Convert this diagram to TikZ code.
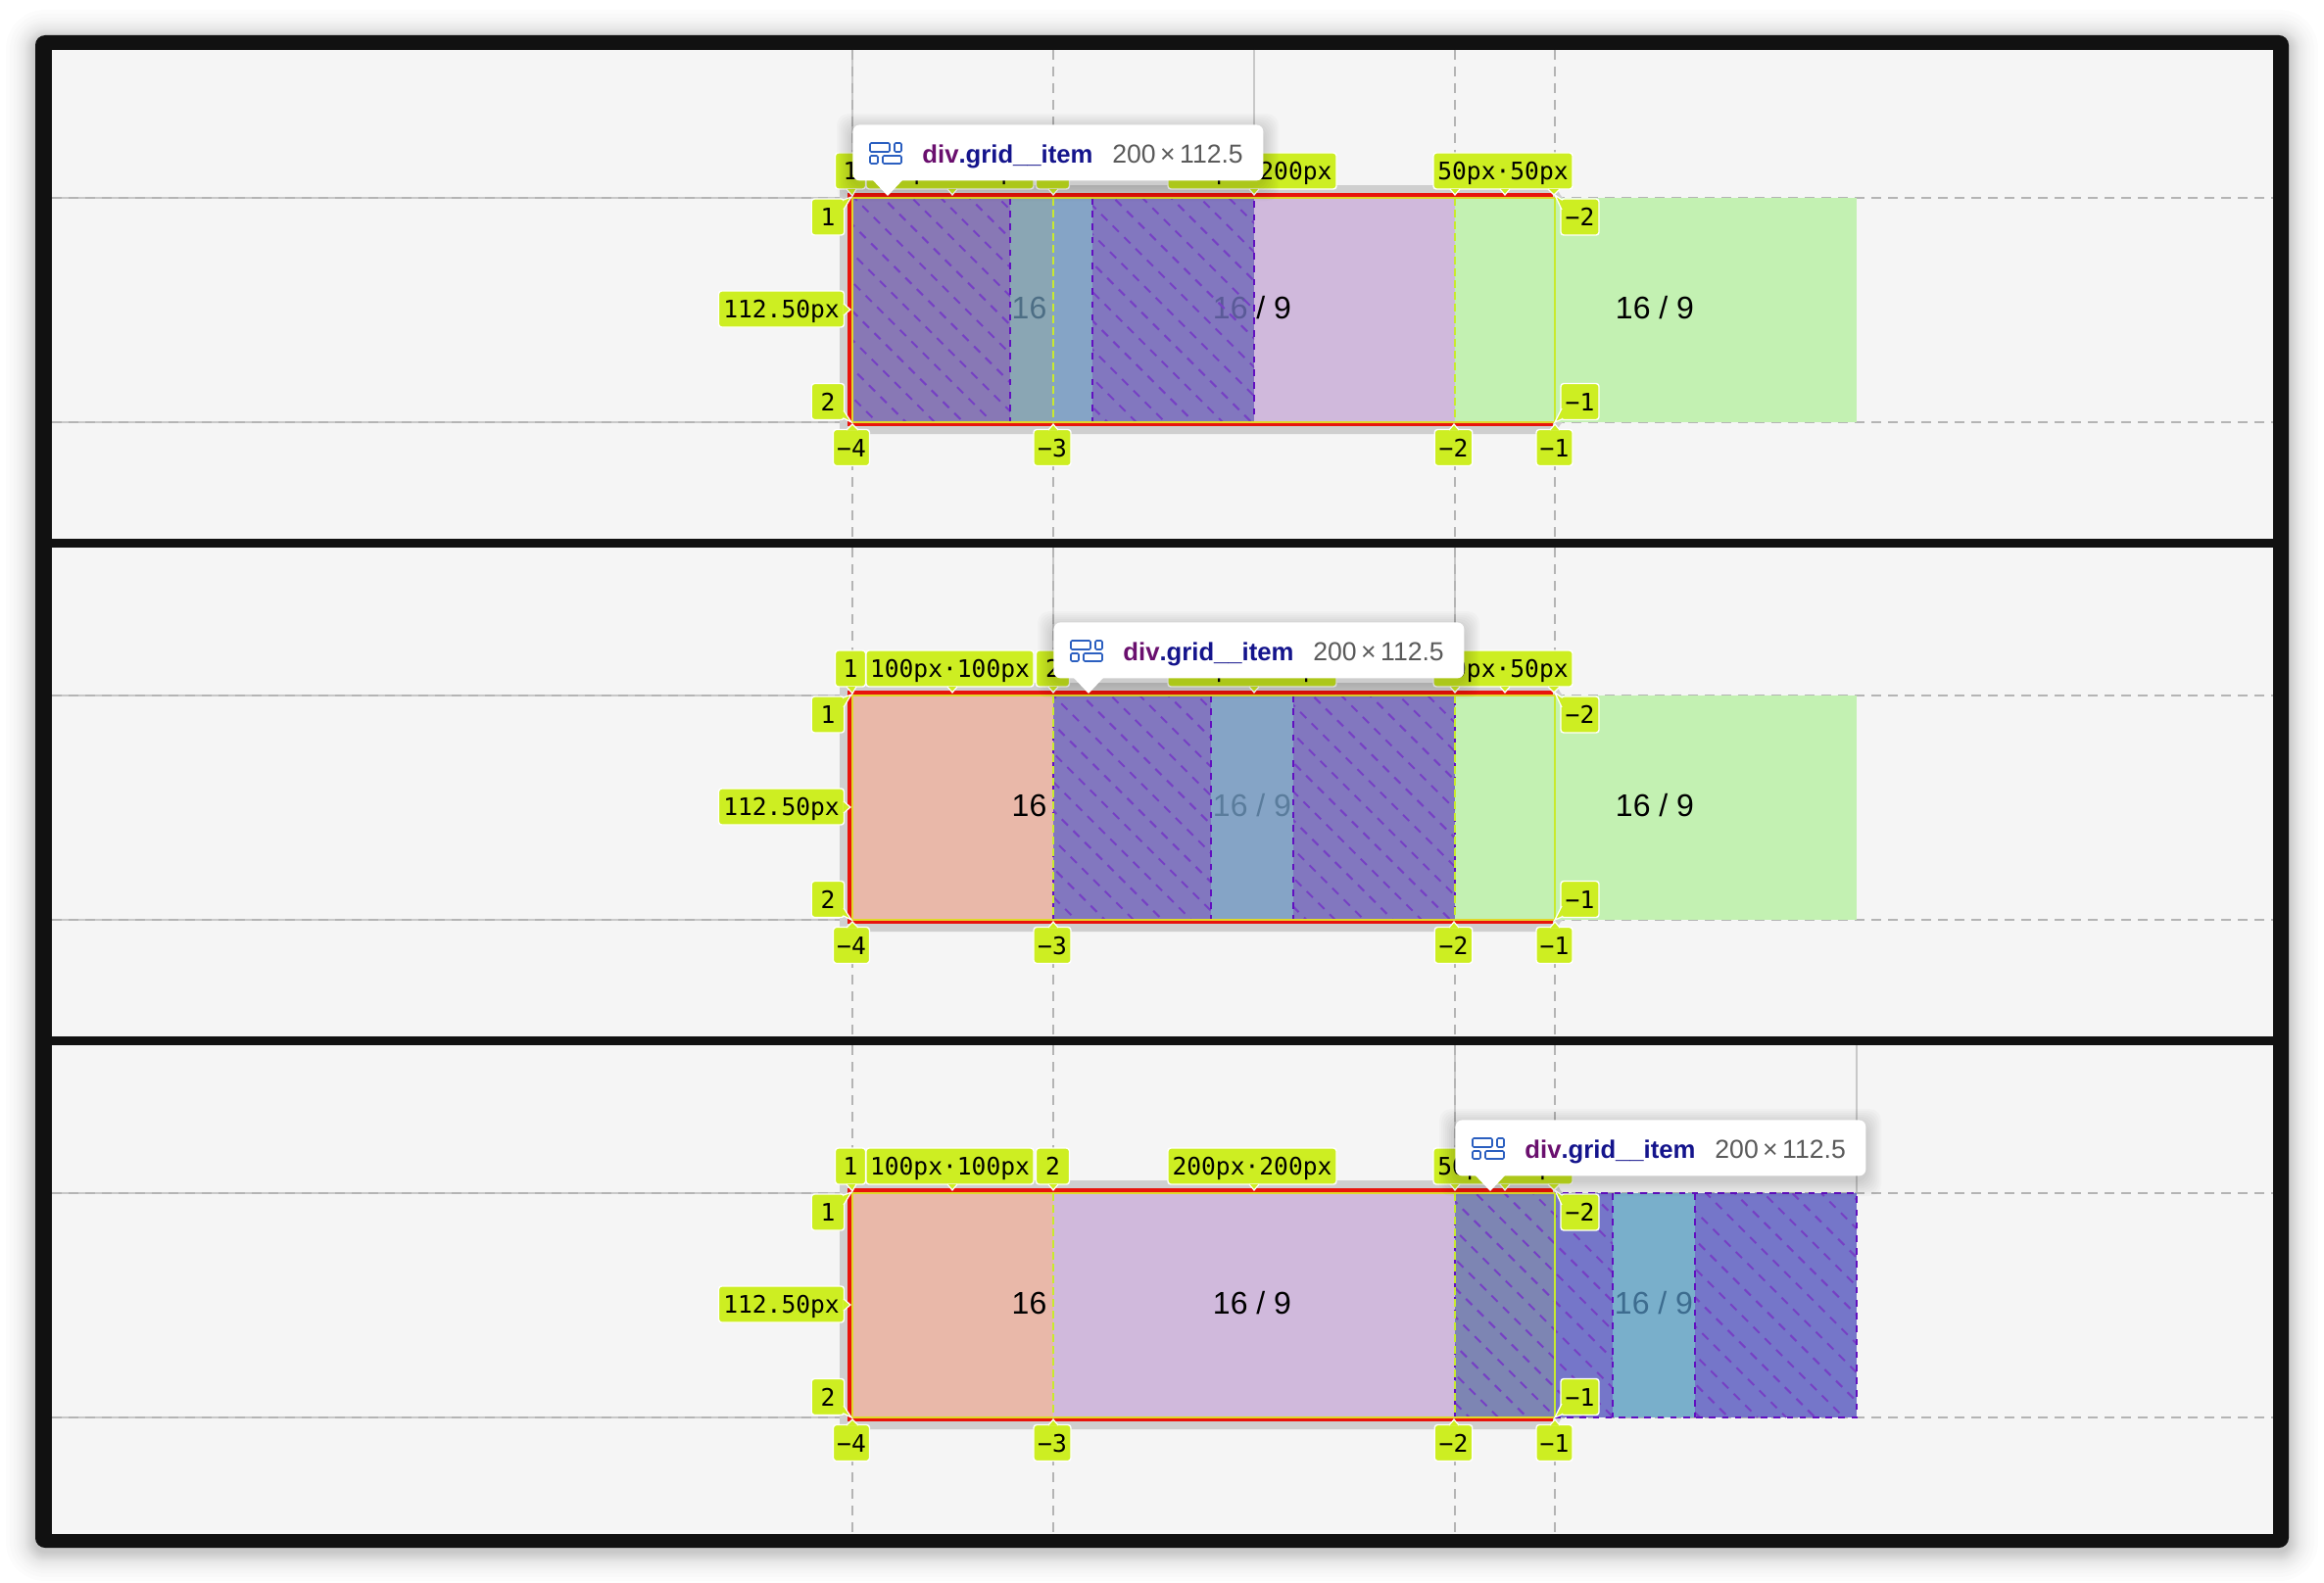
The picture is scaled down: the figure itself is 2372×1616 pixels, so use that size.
\documentclass[tikz,border=0pt]{standalone}
\usepackage{fontspec}
\setmainfont{Liberation Sans}
\newfontfamily\monofam{DejaVu Sans Mono}
\definecolor{framec}{HTML}{111111}
\definecolor{bgc}{HTML}{F5F5F5}
\definecolor{peachc}{HTML}{E9B8A9}
\definecolor{lilacc}{HTML}{D0B9DC}
\definecolor{greenc}{HTML}{C3F1B2}
\definecolor{labc}{HTML}{CDEE22}
\definecolor{redc}{HTML}{E8140C}
\definecolor{yelc}{HTML}{E0D82A}
\definecolor{ylwc}{HTML}{C8EA2E}
\definecolor{bandc}{HTML}{CFCFCF}
\definecolor{extc}{HTML}{B4B4B4}
\definecolor{solidc}{HTML}{C8C8C8}
\definecolor{hatchc}{HTML}{7640C4}
\definecolor{edgec}{HTML}{6210C0}
\definecolor{iconc}{HTML}{2B5FC0}
\definecolor{tagc}{HTML}{6A0F6E}
\definecolor{clsc}{HTML}{14148C}
\definecolor{dimc}{HTML}{5A5A5A}
\definecolor{HatchA}{HTML}{8878B5}
\definecolor{HatchB}{HTML}{8277BF}
\definecolor{HatchC}{HTML}{7D85B3}
\definecolor{HatchD}{HTML}{7576C9}
\definecolor{StripA}{HTML}{8AA6B4}
\definecolor{StripB}{HTML}{85A4C6}
\definecolor{StripD}{HTML}{79AFCB}
\definecolor{TxtA}{HTML}{4D6E85}
\definecolor{TxtB}{HTML}{5A5A98}
\definecolor{TxtC}{HTML}{5A7C9C}
\definecolor{TxtD}{HTML}{3D6C8F}
\tikzset{
  x=0.5pt,y=-0.5pt,
  lab/.style={fill=labc,draw=white,line width=0.7pt,rounded corners=1.5pt,inner sep=0pt,
    minimum height=18.5pt,text height=9pt,text depth=0pt,font=\monofam\fontsize{12.3}{12.3}\selectfont,text=black},
  bodytxt/.style={anchor=base,inner sep=0pt,font=\fontsize{16}{16}\selectfont},
  extline/.style={extc,line width=0.75pt,dash pattern=on 5pt off 3.5pt},
  solidline/.style={solidc,line width=0.75pt},
  edgeln/.style={edgec,line width=1.1pt,dash pattern=on 3.3pt off 3.3pt},
  tipbox/.style={fill=white,rounded corners=3.5pt,inner sep=0pt,anchor=north west,minimum width=209.5pt,minimum height=28.5pt},
  iconbox/.style={iconc,line width=0.8pt,rounded corners=0.6pt},
}
% label: name, cx, cy, width, text
\newcommand\lab[5]{\node[lab,minimum width=#4*0.5pt] (#1) at (#2,#3) {#5};}
% pointer: base a, tip, base b
\newcommand\ptr[3]{\fill[labc] (#1) -- (#2) -- (#3) -- cycle; \draw[white,line width=0.6pt] (#1) -- (#2) -- (#3);}
% hatch lines: x1, x2, anchor X at the top edge
\newcommand\hatchlines[3]{%
  \begin{scope}
    \clip (#1,202) rectangle (#2,431);
    \foreach \k in {-40,...,40} {
      \pgfmathsetmacro{\ph}{(\k+40)*2.33}
      \draw[hatchc,line width=1pt,dash pattern=on 4.4pt off 3.85pt,dash phase=\ph pt] ({#3+29.4*\k},202) -- ({#3+29.4*\k+229},431);
    }
  \end{scope}}
\newcommand\rectfill[3]{\fill[#3] (#1,202) rectangle (#2,431);}
\newcommand\panelstart[2]{% solid left, solid right
  \fill[bgc] (53,51) rectangle (2320,550);
  \draw[solidline] (53,202) -- (#1,202);
  \draw[solidline] (53,431) -- (#1,431);
  \draw[solidline] (#1,51) -- (#1,202);
  \draw[solidline] (#2,51) -- (#2,202);
  \foreach \xx in {870,1075,1485,1587} {
    \draw[extline] (\xx,51) -- (\xx,197);
    \draw[extline] (\xx,436) -- (\xx,550);
  }
  \draw[extline] (53,202) -- (865,202);
  \draw[extline] (53,431) -- (865,431);
  \draw[extline] (1587,202) -- (2320,202);
  \draw[extline] (1587,431) -- (2320,431);
  \fill[bandc,rounded corners=2pt] (857,189) -- (1590,189) -- (1590,196) -- (1597,204) -- (1597,429) -- (1590,436) -- (1590,443) -- (857,443) -- cycle;
  \rectfill{870}{1075}{peachc}
  \rectfill{1075}{1485}{lilacc}
  \rectfill{1485}{1895}{greenc}
}
\newcommand\panelend[1]{% suffix
  \draw[redc,line width=2.2pt] (1585,199) -- (867,199) -- (867,435);
  \draw[redc,line width=1.4pt] (865,433.7) -- (1585,433.7);
  \draw[yelc,line width=1pt] (869.5,202) -- (1587,202);
  \draw[yelc,line width=1.1pt] (869.5,431) -- (1587,431);
  \draw[yelc,line width=1pt] (870,202) -- (870,431);
  \draw[ylwc,line width=1pt] (1587,202) -- (1587,431);
  \draw[ylwc,line width=1pt,dash pattern=on 4pt off 2pt] (1075,202) -- (1075,431);
  \draw[ylwc,line width=1pt,dash pattern=on 4pt off 2pt] (1485,202) -- (1485,431);
  % top labels
  \lab{t1#1}{868}{174.5}{31}{1}
  \ptr{864,193}{870,200}{874,193}
  \lab{t100#1}{969.5}{174.5}{171}{100px·100px}
  \ptr{967,193}{972,199}{977,193}
  \lab{t2#1}{1074.5}{174.5}{34}{2}
  \ptr{1070,193}{1075,199}{1080,193}
  \lab{t200#1}{1278}{174.5}{172}{200px·200px}
  \ptr{1275,193}{1280,199}{1285,193}
  \lab{t50#1}{1534}{174.5}{142}{50px·50px}
  \ptr{1480,193}{1485,199}{1490,193}
  \ptr{1531,193}{1536,199}{1541,193}
  \ptr{1580,193}{1586,199}{1592,193}
  % left labels
  \lab{l1#1}{845}{221.5}{33.5}{1}
  \ptr{861,204}{869,201}{861,214}
  \lab{l2#1}{845}{410}{33.5}{2}
  \ptr{861,419}{869,431}{861,427}
  \lab{lh#1}{797.5}{315.5}{128}{112.50px}
  \ptr{861,310}{868,316}{861,322}
  % right labels
  \lab{r2#1}{1612.5}{221.5}{39}{−2}
  \ptr{1594,204}{1587,199}{1594,214}
  \lab{r1#1}{1612.5}{410}{39}{−1}
  \ptr{1594,417}{1587,431}{1594,428}
  % bottom labels
  \lab{b4#1}{869}{457}{37}{−4}
  \ptr{864,439}{870,433}{876,439}
  \lab{b3#1}{1074}{457}{38}{−3}
  \ptr{1070,439}{1075,433}{1080,439}
  \lab{b2#1}{1483.5}{457}{38.5}{−2}
  \ptr{1479,439}{1484,433}{1489,439}
  \lab{b1#1}{1586.5}{457}{37}{−1}
  \ptr{1582,439}{1587,433}{1592,439}
}
\newcommand\tooltip[2]{% suffix, left x
  \begin{scope}[shift={(#2,127)}]
    \foreach \e in {16,14,...,2} {
      \fill[black,opacity=0.018,rounded corners=6pt] ({-\e},{-\e+5}) rectangle ({419+\e},{57+\e+5});
    }
    \node[tipbox] (tip#1) at (0,0) {};
    \fill[white] (20,56) -- (36,73) -- (52,56) -- cycle;
    \draw[iconbox] (18,19) rectangle (38,28);
    \draw[iconbox] (43,19) rectangle (50,28);
    \draw[iconbox] (18,32) rectangle (26,40);
    \draw[iconbox] (31,32) rectangle (50,40);
    \node[anchor=base west,inner sep=0pt,font=\bfseries\fontsize{12.85}{12.85}\selectfont] (tipname#1) at (71,39)
      {\textcolor{tagc}{div}\textcolor{clsc}{.grid\_\kern-0.1pt\_item}};
    \node[anchor=base west,inner sep=0pt,text=dimc,font=\fontsize{13.3}{13.3}\selectfont] (tipsize#1) at (265,39)
      {200\,×\,112.5};
  \end{scope}
}
\begin{document}
\begin{tikzpicture}
\useasboundingbox (0,0) rectangle (2372,1616);
\fill[white] (0,0) rectangle (2372,1616);
\foreach \e in {30,26,22,19,17,15,13,11,10,9,8,7,6,5,4,3,2,1} {
  \fill[black,opacity=0.012,rounded corners={(\e+10)*0.5pt}] ({36-\e},{40-\e}) rectangle ({2336+\e},{1584+\e});
}
\fill[framec,rounded corners=5pt] (36,36) rectangle (2336,1580);

% ---------- panel 1
\begin{scope}
\panelstart{870}{1280}
\rectfill{870}{1031}{HatchA}
\rectfill{1031}{1075}{StripA}
\rectfill{1075}{1115}{StripB}
\rectfill{1115}{1280}{HatchB}
\node[bodytxt,text=TxtA] (a16) at (1050.5,325) {16};
\node[bodytxt] (aratio) at (1278,325) {\textcolor{TxtB}{16} / 9};
\node[bodytxt] (agreen) at (1689,325) {16 / 9};
\hatchlines{870}{1031}{872}
\hatchlines{1115}{1280}{872}
\draw[edgeln] (870,202) rectangle (1280,431);
\draw[edgeln] (1031,202) -- (1031,431);
\draw[edgeln] (1115,202) -- (1115,431);
\panelend{a}
\end{scope}

% ---------- panel 2
\begin{scope}[shift={(0,508)}]
\panelstart{1075}{1485}
\rectfill{1075}{1236}{HatchB}
\rectfill{1236}{1320}{StripB}
\rectfill{1320}{1485}{HatchB}
\node[bodytxt] (b16) at (1050.5,325) {16};
\node[bodytxt,text=TxtC] (bratio) at (1278,325) {16 / 9};
\node[bodytxt] (bgreen) at (1689,325) {16 / 9};
\hatchlines{1075}{1236}{1075}
\hatchlines{1320}{1485}{1075}
\draw[edgeln] (1075,202) rectangle (1485,431);
\draw[edgeln] (1236,202) -- (1236,431);
\draw[edgeln] (1320,202) -- (1320,431);
\panelend{b}
\end{scope}

% ---------- panel 3
\begin{scope}[shift={(0,1016)}]
\panelstart{1485}{1895}
\rectfill{1485}{1587}{HatchC}
\rectfill{1587}{1646}{HatchD}
\rectfill{1646}{1730}{StripD}
\rectfill{1730}{1895}{HatchD}
\node[bodytxt] (c16) at (1050.5,325) {16};
\node[bodytxt] (cratio) at (1278,325) {16 / 9};
\node[bodytxt,text=TxtD] (cgreen) at (1688,325) {16 / 9};
\hatchlines{1485}{1646}{1653}
\hatchlines{1730}{1895}{1653}
\draw[edgeln] (1485,202) rectangle (1895,431);
\draw[edgeln] (1646,202) -- (1646,431);
\draw[edgeln] (1730,202) -- (1730,431);
\panelend{c}
\end{scope}

% dividers
\fill[framec] (36,550) rectangle (2336,559);
\fill[framec] (36,1058) rectangle (2336,1067);

\tooltip{a}{870}
\begin{scope}[shift={(0,508)}]\tooltip{b}{1075}\end{scope}
\begin{scope}[shift={(0,1016)}]\tooltip{c}{1485}\end{scope}
\end{tikzpicture}
\end{document}
